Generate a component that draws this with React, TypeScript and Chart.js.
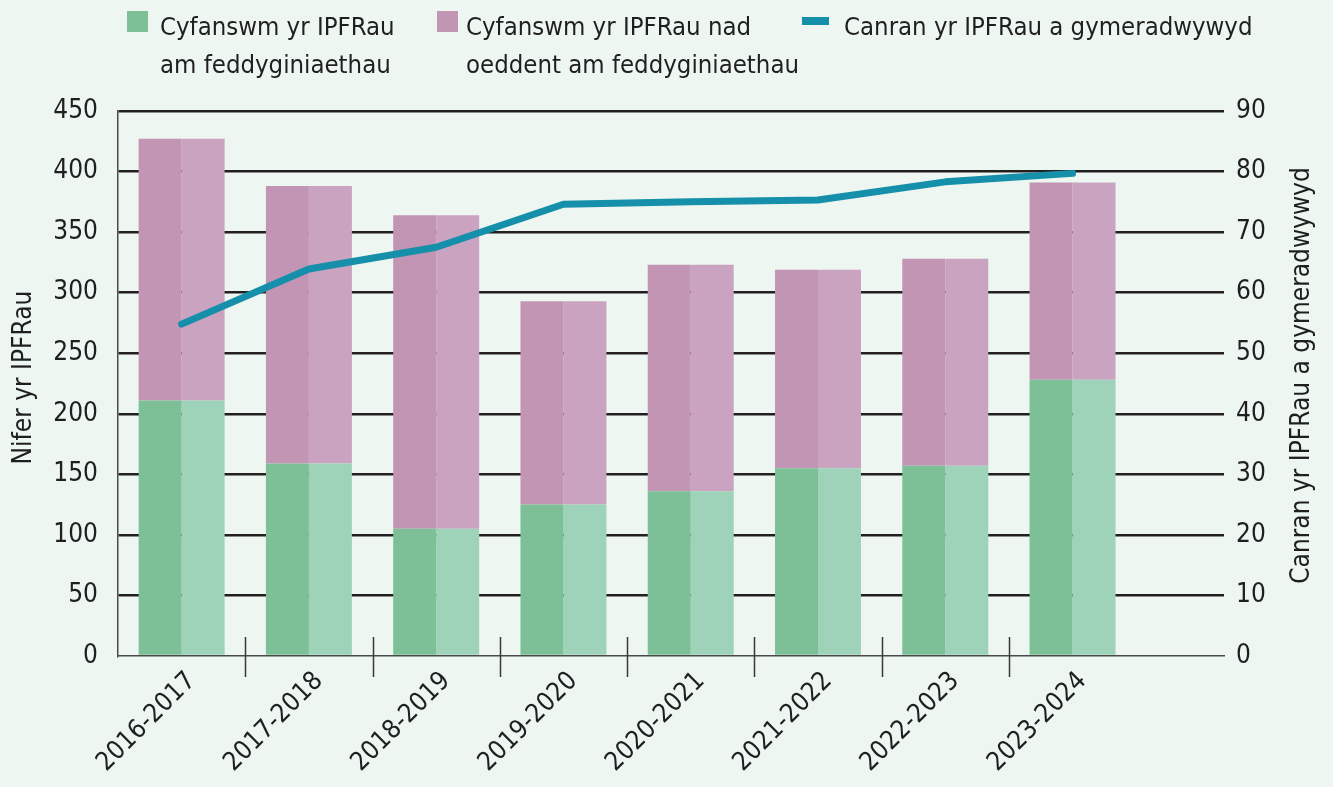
import React, { useEffect, useRef } from 'react';
import { Chart, registerables } from 'chart.js';

Chart.register(...registerables);

// ---- Data ----
const categories = ['2016-2017', '2017-2018', '2018-2019', '2019-2020', '2020-2021', '2021-2022', '2022-2023', '2023-2024'];
const withMedication = [211, 159, 105, 125, 136, 155, 157, 228];
const withoutMedication = [216, 229, 259, 168, 187, 164, 171, 163];
const approvedPercent = [54.8, 63.9, 67.5, 74.6, 75.0, 75.3, 78.3, 79.7];

const leftAxisMax = 450;
const leftAxisStep = 50;
const rightAxisMax = 90;
const rightAxisStep = 10;

const seriesGreenLabel = ['Cyfanswm yr IPFRau', 'am feddyginiaethau'];
const seriesPinkLabel = ['Cyfanswm yr IPFRau nad', 'oeddent am feddyginiaethau'];
const seriesLineLabel = ['Canran yr IPFRau a gymeradwywyd'];
const leftTitle = 'Nifer yr IPFRau';
const rightTitle = 'Canran yr IPFRau a gymeradwywyd';

// ---- Styles ----
const FONT = '"DejaVu Sans Condensed", "DejaVu Sans", sans-serif';
const TEXT = '#1f1f1f';
const BG = '#edf6f1';
const GREEN_DARK = '#7dbf96';
const GREEN_LIGHT = '#9ed3ba';
const PINK_DARK = '#c295b4';
const PINK_LIGHT = '#caa3c1';
const TEAL = '#168fab';
const GRID = '#231f20';
const AXIS = '#4a4a4a';
const FONT_SIZE = 26;

const toXY = (arr: number[]) => arr.map((v, i) => ({ x: i, y: v }));

const decorPlugin = {
  id: 'decor',
  afterDraw(chart: any) {
    const { ctx, chartArea, scales } = chart;
    const xs = scales.x;
    ctx.save();
    ctx.strokeStyle = '#3a3a3a';
    ctx.lineWidth = 1.5;
    for (let i = 0; i < categories.length - 1; i++) {
      const px = Math.round((xs.getPixelForValue(i) + xs.getPixelForValue(i + 1)) / 2) + 0.5;
      ctx.beginPath();
      ctx.moveTo(px, chartArea.bottom - 19);
      ctx.lineTo(px, chartArea.bottom + 21);
      ctx.stroke();
    }
    ctx.fillStyle = TEXT;
    ctx.font = `${FONT_SIZE}px ${FONT}`;
    ctx.textAlign = 'center';
    ctx.textBaseline = 'middle';
    const cy = (chartArea.top + chartArea.bottom) / 2;
    ctx.save();
    ctx.translate(chartArea.left - 94, cy - 6);
    ctx.rotate(-Math.PI / 2);
    ctx.fillText(leftTitle, 0, 0);
    ctx.restore();
    ctx.save();
    ctx.translate(scales.y2.right - 31, cy - 8);
    ctx.rotate(-Math.PI / 2);
    ctx.fillText(rightTitle, 0, 0);
    ctx.restore();
    ctx.restore();
  },
};

type LegendEntry = { lines: string[]; color: string; kind: 'box' | 'line'; swatchLeft: number; textLeft: number };
const legendEntries: LegendEntry[] = [
  { lines: seriesGreenLabel, color: GREEN_DARK, kind: 'box', swatchLeft: 127, textLeft: 160 },
  { lines: seriesPinkLabel, color: PINK_DARK, kind: 'box', swatchLeft: 437, textLeft: 466 },
  { lines: seriesLineLabel, color: TEAL, kind: 'line', swatchLeft: 802, textLeft: 844 },
];

export default function App() {
  const canvasRef = useRef<HTMLCanvasElement | null>(null);

  useEffect(() => {
    if (!canvasRef.current) return;
    const tickFont = { family: FONT, size: FONT_SIZE };
    const chart = new Chart(canvasRef.current, {
      type: 'bar',
      data: {
        datasets: [
          { type: 'bar', label: seriesGreenLabel.join(' '), data: toXY(withMedication), backgroundColor: GREEN_DARK, stack: 'L', yAxisID: 'y', order: 1 },
          { type: 'bar', label: seriesGreenLabel.join(' '), data: toXY(withMedication), backgroundColor: GREEN_LIGHT, stack: 'R', yAxisID: 'y', order: 1 },
          { type: 'bar', label: seriesPinkLabel.join(' '), data: toXY(withoutMedication), backgroundColor: PINK_DARK, stack: 'L', yAxisID: 'y', order: 1 },
          { type: 'bar', label: seriesPinkLabel.join(' '), data: toXY(withoutMedication), backgroundColor: PINK_LIGHT, stack: 'R', yAxisID: 'y', order: 1 },
          {
            type: 'line', label: seriesLineLabel[0], data: toXY(approvedPercent), yAxisID: 'y2', order: 0,
            borderColor: TEAL, borderWidth: 7, pointRadius: 0, borderCapStyle: 'round', borderJoinStyle: 'round', tension: 0, fill: false,
          } as any,
        ],
      },
      options: {
        animation: false,
        responsive: true,
        maintainAspectRatio: false,
        layout: { padding: { left: 0, right: 0, top: 111, bottom: 0 } },
        datasets: { bar: { barPercentage: 1, categoryPercentage: 0.6755, borderWidth: 0 } },
        scales: {
          x: {
            type: 'linear',
            min: -0.5,
            max: 8.19,
            offset: false,
            afterBuildTicks: (s: any) => { s.ticks = categories.map((_, i) => ({ value: i })); },
            afterFit: (s: any) => { s.height = 131; },
            grid: { display: false },
            border: { display: true, color: AXIS, width: 1.5 },
            ticks: {
              autoSkip: false, maxRotation: 45, minRotation: 45, padding: 2, labelOffset: 10,
              font: tickFont, color: TEXT,
              callback: (v: any) => categories[v] ?? '',
            },
          },
          y: {
            position: 'left', stacked: true, min: 0, max: leftAxisMax,
            afterFit: (s: any) => { s.width = 118; },
            ticks: { stepSize: leftAxisStep, padding: 20, font: tickFont, color: TEXT },
            grid: {
              drawTicks: false, lineWidth: 2.5,
              color: (c: any) => (c.tick && c.tick.value === 0 ? 'rgba(0,0,0,0)' : GRID),
            },
            border: { display: true, color: AXIS, width: 1.5 },
          },
          y2: {
            position: 'right', min: 0, max: rightAxisMax,
            afterFit: (s: any) => { s.width = 109; },
            ticks: { stepSize: rightAxisStep, padding: 12, font: tickFont, color: TEXT },
            grid: { display: false, drawTicks: false },
            border: { display: false },
          },
        },
        plugins: {
          tooltip: { enabled: false },
          legend: { display: false },
        },
      } as any,
      plugins: [decorPlugin],
    });
    return () => chart.destroy();
  }, []);

  return (
    <div style={{ position: 'fixed', left: 0, top: 0, width: 1333, height: 787, background: BG }}>
      <canvas ref={canvasRef} />
      <div style={{ position: 'absolute', left: 0, top: 0, width: 1333, height: 111, fontFamily: FONT, fontSize: 25.5, lineHeight: '38px', color: TEXT, pointerEvents: 'none' }}>
        {legendEntries.map((e, i) => (
          <React.Fragment key={i}>
            <div
              style={
                e.kind === 'box'
                  ? { position: 'absolute', left: e.swatchLeft, top: 11, width: 21, height: 21, background: e.color }
                  : { position: 'absolute', left: e.swatchLeft, top: 17, width: 27, height: 8, background: e.color }
              }
            />
            <div style={{ position: 'absolute', left: e.textLeft, top: 7, whiteSpace: 'nowrap' }}>
              {e.lines.map((l, j) => (
                <div key={j}>{l}</div>
              ))}
            </div>
          </React.Fragment>
        ))}
      </div>
    </div>
  );
}
